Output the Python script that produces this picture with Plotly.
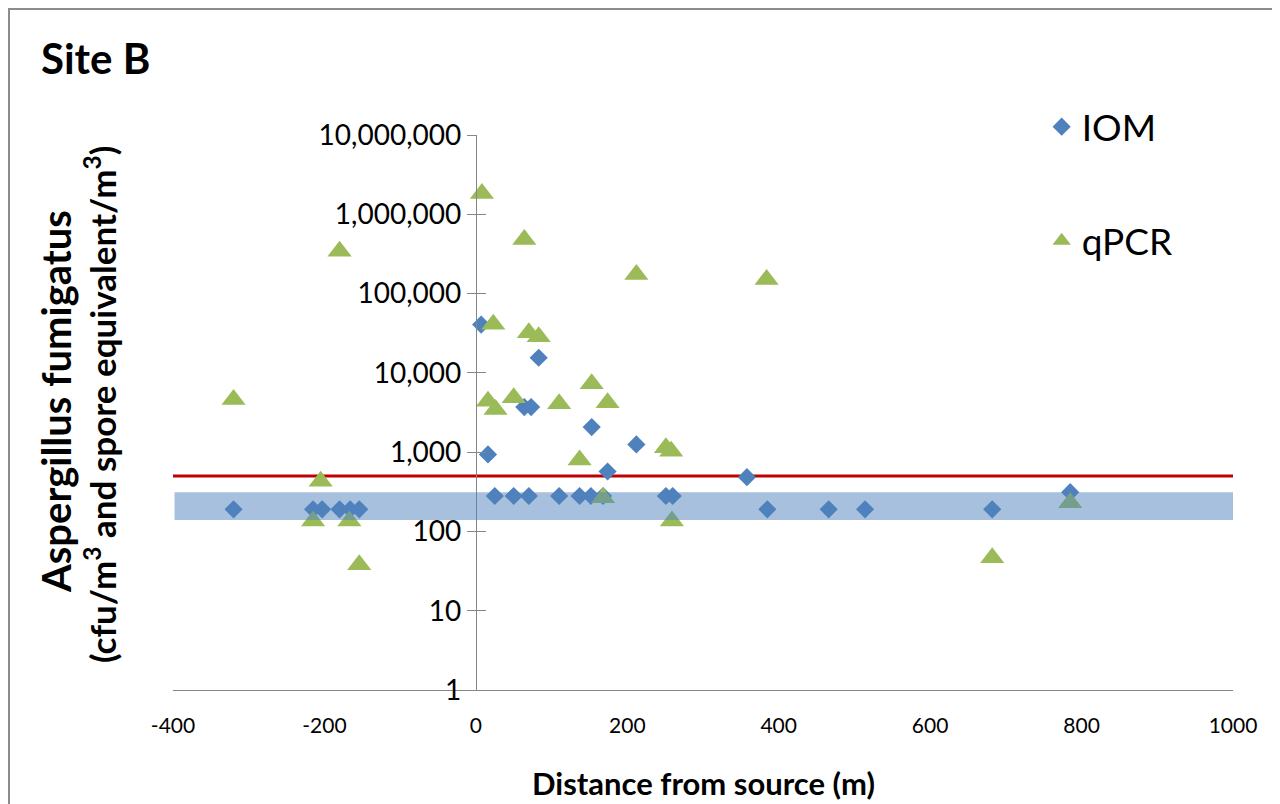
import plotly.graph_objects as go

# ---- data ----
iom_x = [-320, -215, -203, -180, -166, -154, 7, 16, 25, 50, 70, 64, 73, 83,
         110, 137, 152, 168, 153, 174, 212, 251, 260, 358, 385, 466, 514, 682, 785]
iom_y = [190, 190, 190, 190, 190, 190, 40700, 935, 280, 280, 280, 3700, 3700, 15500,
         280, 280, 280, 280, 2070, 570, 1250, 280, 280, 484, 190, 190, 190, 190, 313]

qpcr_x = [-320, -180, -205, -215, -167, -154, 8, 16, 23, 26, 50, 64, 70, 83,
          110, 137, 153, 168, 174, 212, 251, 258, 259, 384, 682, 785]
qpcr_y = [4600, 343000, 430, 135, 135, 38, 1830000, 4400, 41000, 3450, 4850, 481000,
          32000, 28500, 4080, 795, 7280, 266, 4200, 174000, 1135, 1030, 135, 150700, 46.6, 230]

x_ticks = [-400, -200, 0, 200, 400, 600, 800, 1000]
x_ticktext = ["-400", "-200", "0", "200", "400", "600", "800", "1000"]
y_ticks = [1, 10, 100, 1000, 10000, 100000, 1000000, 10000000]
y_ticktext = ["1", "10", "100", "1,000", "10,000", "100,000", "1,000,000", "10,000,000"]

limit_value = 500          # red reference line
band_low, band_high = 139, 313   # shaded band
x_min, x_max = -400, 1000

FONT = "Lato"
AX = "#868686"

# page has an 8px body margin; plot area in page coords: x 173..1233, y 135..690
W, H = 1272, 796
OFF = 8
PL, PR, PT, PB = 173, 1233, 135, 690


def px(xp):
    return (xp - PL) / (PR - PL)


def py(yp):
    return (PB - yp) / (PB - PT)


fig = go.Figure()
fig.add_trace(go.Scatter(
    x=iom_x, y=iom_y, mode="markers", name="IOM", legendgroup="a",
    marker=dict(symbol="diamond", size=14, color="#4F81BD", line=dict(width=0)),
))
fig.add_trace(go.Scatter(
    x=qpcr_x, y=qpcr_y, mode="markers", name="qPCR", legendgroup="b",
    marker=dict(symbol="triangle-up", size=21, color="#9BBB59", line=dict(width=0)),
))

pos0 = (0 - x_min) / (x_max - x_min)

fig.update_layout(
    width=W, height=H,
    margin=dict(l=PL - OFF, r=W - (PR - OFF), t=PT - OFF, b=H - (PB - OFF), autoexpand=False),
    paper_bgcolor="white", plot_bgcolor="white",
    font=dict(family=FONT, color="black"),
    showlegend=True,
    legend=dict(x=0.8195, y=1.07, xanchor="left", yanchor="top",
                font=dict(size=37, family=FONT, color="black"),
                tracegroupgap=63, bgcolor="rgba(0,0,0,0)"),
    xaxis=dict(range=[x_min, x_max], tickvals=x_ticks, ticktext=x_ticktext,
               showgrid=False, zeroline=False,
               showline=True, linecolor=AX, linewidth=1, ticks="",
               tickfont=dict(size=21, family=FONT, color="black"),
               ticklabelstandoff=17),
    yaxis=dict(type="log", range=[0, 7], tickvals=y_ticks, ticktext=y_ticktext,
               anchor="free", position=pos0, showgrid=False, zeroline=False,
               showline=True, linecolor=AX, linewidth=1,
               ticks="outside", ticklen=9, tickcolor=AX,
               tickfont=dict(size=28, family=FONT, color="black")),
    yaxis2=dict(type="log", range=[0, 7], tickvals=y_ticks, overlaying="y",
                anchor="free", position=pos0, showgrid=False, zeroline=False,
                showline=False, ticks="inside", ticklen=9, tickcolor=AX,
                showticklabels=False),
)
# dummy trace to activate yaxis2
fig.add_trace(go.Scatter(x=[None], y=[None], yaxis="y2", showlegend=False, hoverinfo="skip"))

fig.add_shape(type="line", xref="x", yref="y", x0=x_min, x1=x_max,
              y0=limit_value, y1=limit_value, line=dict(color="#C00000", width=3), layer="below")
fig.add_shape(type="rect", xref="x", yref="y", x0=x_min + 2, x1=x_max + 3,
              y0=band_low, y1=band_high, line=dict(width=0),
              fillcolor="rgba(79,129,189,0.5)", layer="above")
# chart border
fig.add_shape(type="rect", xref="paper", yref="paper",
              x0=px(9), x1=px(1275), y0=py(820), y1=py(9),
              line=dict(color="#8C8C8C", width=2), fillcolor="rgba(0,0,0,0)", layer="below")

fig.add_annotation(text="<b>Site B</b>", xref="paper", yref="paper",
                   x=px(39), y=py(58), xanchor="left", yanchor="middle",
                   showarrow=False, font=dict(size=42, family=FONT, color="black"))
fig.add_annotation(text="<b>Distance from source (m)</b>", xref="paper", yref="paper",
                   x=px(703), y=py(783), xanchor="center", yanchor="middle",
                   showarrow=False, font=dict(size=31, family=FONT, color="black"))
fig.add_annotation(text="<b>Aspergillus fumigatus</b>",
                   xref="paper", yref="paper", textangle=-90,
                   x=px(56), y=py(402), xanchor="center", yanchor="middle",
                   showarrow=False, font=dict(size=40, family=FONT, color="black"))
fig.add_annotation(text="<b>(cfu/m<sup>3</sup> and spore equivalent/m<sup>3</sup>)</b>",
                   xref="paper", yref="paper", textangle=-90,
                   x=px(100), y=py(405), xanchor="center", yanchor="middle",
                   showarrow=False, font=dict(size=35, family=FONT, color="black"))

fig.write_html("out.html")
